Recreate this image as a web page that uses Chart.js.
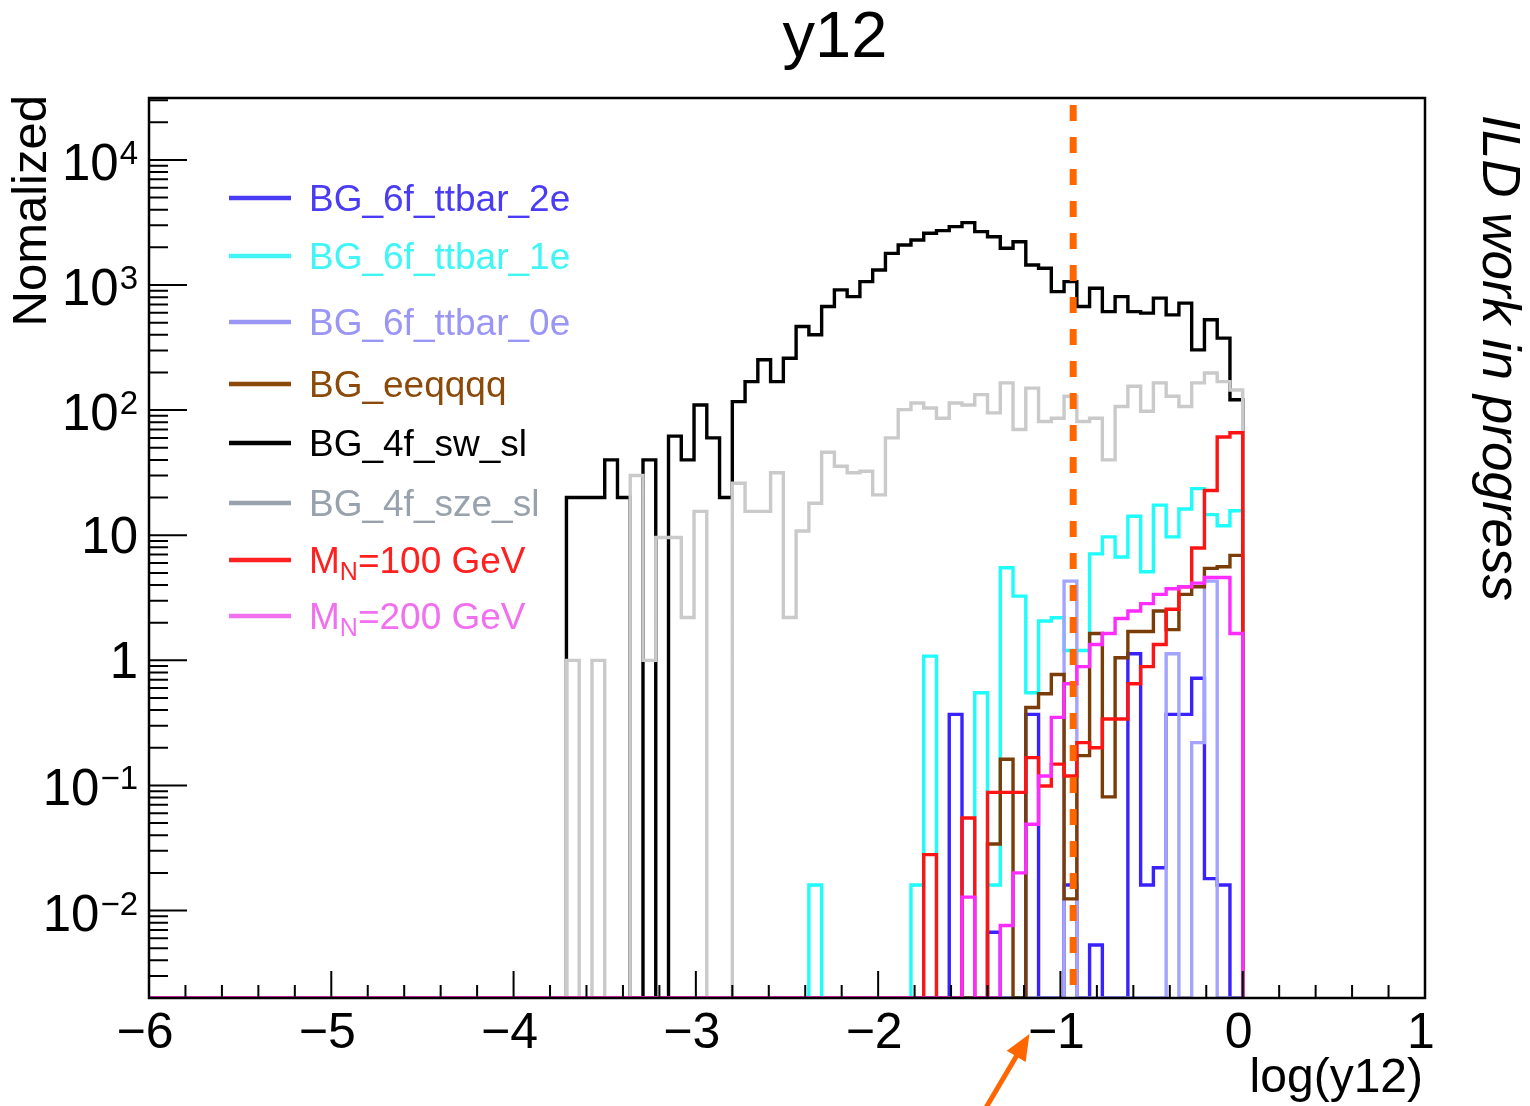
<!DOCTYPE html>
<html>
<head>
<meta charset="utf-8">
<title>y12</title>
<script src="https://cdn.jsdelivr.net/npm/chart.js@4.4.1/dist/chart.umd.min.js"></script>
<style>
  html, body { margin: 0; padding: 0; background: #fff; }
  #wrap { width: 1530px; height: 1106px; }
</style>
</head>
<body>
<div id="wrap"><canvas id="y12-chart" width="1530" height="1106"></canvas></div>
<script>
// Histograms have 100 bins of 0.07 over [-7, 0]; only bins from -3.71 up are filled.
const histLo = -7;
const histHi = 0;
const firstBin = -3.71;
const binWidth = 0.07;

// axis ranges
const xMin = -6, xMax = 1;
const yMin = 0.002, yMax = 31250;

// bin contents, one entry per bin starting at -3.71
const bg6fTtbar2e = [
  0, 0, 0, 0, 0, 0, 0, 0, 0, 0,
  0, 0, 0, 0, 0, 0, 0, 0, 0, 0,
  0, 0, 0, 0, 0, 0, 0, 0, 0, 0,
  0.37, 0, 0, 0.0067, 0, 0, 0.37, 0, 0, 0.016,
  0, 0.0053, 0, 0, 1.13, 0.016, 0.022, 0.37, 0.37, 0.72,
  0.018, 0.016, 0
];
const bg6fTtbar1e = [
  0, 0, 0, 0, 0, 0, 0, 0, 0, 0,
  0, 0, 0, 0, 0, 0, 0, 0, 0, 0.016,
  0, 0, 0, 0, 0, 0, 0, 0.016, 1.08, 0,
  0, 0, 0.55, 0.016, 5.5, 3.26, 0.55, 2.06, 2.19, 1.2,
  1.2, 7.1, 9.7, 6.7, 14.2, 5.1, 17.4, 9.7, 16.2, 23.6,
  14.6, 11.9, 15.7
];
const bg6fTtbar0e = [
  0, 0, 0, 0, 0, 0, 0, 0, 0, 0,
  0, 0, 0, 0, 0, 0, 0, 0, 0, 0,
  0, 0, 0, 0, 0, 0, 0, 0, 0, 0,
  0, 0, 0, 0, 0, 0, 0, 0, 0, 4.3,
  0, 0, 0, 0, 0, 0, 0, 1.13, 0, 0.22,
  4.3, 0, 0
];
const bgEeqqqq = [
  0, 0, 0, 0, 0, 0, 0, 0, 0, 0,
  0, 0, 0, 0, 0, 0, 0, 0, 0, 0,
  0, 0, 0, 0, 0, 0, 0, 0, 0, 0,
  0, 0, 0, 0.034, 0.162, 0, 0.42, 0.54, 0.77, 0.0124,
  0.173, 1.64, 0.081, 1.05, 1.7, 1.7, 2.48, 1.76, 3.37, 3.87,
  5.43, 5.6, 6.9
];
const bg4fSwSl = [
  20, 20, 20, 40, 20, 0, 40, 0, 62, 40,
  110, 60, 20, 117, 169, 253, 169, 260, 466, 400,
  673, 914, 808, 1065, 1320, 1790, 2090, 2290, 2590, 2720,
  2930, 3150, 2670, 2430, 1970, 2220, 1445, 1360, 885, 1065,
  673, 943, 613, 808, 613, 596, 785, 577, 716, 303,
  527, 376, 121
];
const bg4fSzeSl = [
  1, 0, 1, 0, 0, 30, 1, 9.6, 9.6, 2.2,
  15.5, 0, 0, 26, 15.5, 15.5, 31.6, 2.2, 10.8, 18,
  46, 35.6, 31.6, 32.5, 21, 60, 101, 114, 104, 86,
  114, 110, 133, 95, 165, 70, 150, 81, 86, 129,
  81, 86, 40, 107, 155, 98, 165, 129, 107, 165,
  198, 169, 145
];
const mN100 = [
  0, 0, 0, 0, 0, 0, 0, 0, 0, 0,
  0, 0, 0, 0, 0, 0, 0, 0, 0, 0,
  0, 0, 0, 0, 0, 0, 0, 0, 0.028, 0,
  0, 0.055, 0, 0.088, 0.088, 0.088, 0.167, 0.099, 0.148, 0.119,
  0.22, 0.2, 0.34, 0.34, 0.65, 0.89, 1.34, 2.56, 3.87, 7.9,
  22.8, 61, 66
];
const mN200 = [
  0, 0, 0, 0, 0, 0, 0, 0, 0, 0,
  0, 0, 0, 0, 0, 0, 0, 0, 0, 0,
  0, 0, 0, 0, 0, 0, 0, 0, 0, 0,
  0, 0.0128, 0, 0, 0.0076, 0.02, 0.049, 0.119, 0.35, 0.65,
  0.89, 1.34, 1.64, 2.16, 2.48, 2.84, 3.37, 3.73, 3.87, 4.14,
  4.59, 4.59, 1.64
];

// legend order == draw order (later ones on top)
const seriesLabels = ["BG_6f_ttbar_2e", "BG_6f_ttbar_1e", "BG_6f_ttbar_0e", "BG_eeqqqq",
                      "BG_4f_sw_sl", "BG_4f_sze_sl", "M{N}=100 GeV", "M{N}=200 GeV"];
const seriesValues = [bg6fTtbar2e, bg6fTtbar1e, bg6fTtbar0e, bgEeqqqq, bg4fSwSl, bg4fSzeSl, mN100, mN200];
const lineColors   = ["#3a22ff", "#1ffcfc", "#a4a4ff", "#7a3d08", "#000000", "#cacaca", "#ff1414", "#ff2cff"];
const legendColors = ["#4a3cf5", "#40f5f5", "#9a96f5", "#8b4a0a", "#000000", "#98a2ad", "#ff2020", "#f070f0"];

// axis ticks
const xTickValues = [-6, -5, -4, -3, -2, -1, 0, 1];
const xTickLabels = ["\u22126", "\u22125", "\u22124", "\u22123", "\u22122", "\u22121", "0", "1"];
const yTickValues = [0.01, 0.1, 1, 10, 100, 1000, 10000];
const yTickBase   = ["10", "10", "1", "10", "10", "10", "10"];
const yTickExp    = ["\u22122", "\u22121", "", "", "2", "3", "4"];

// selection cut and arrow
const cutValue = -0.93;
const arrowValue = -1.17;

const FONT = "'Liberation Sans', Arial, Helvetica, sans-serif";

function histPoints(values) {
  const pts = [{ x: histLo, y: yMin }];
  values.forEach((v, k) => pts.push({ x: firstBin + k * binWidth, y: v > 0 ? v : yMin }));
  pts.push({ x: histHi, y: yMin });
  return pts;
}

const datasets = seriesLabels.map((name, i) => ({
  label: name,
  data: histPoints(seriesValues[i]),
  borderColor: lineColors[i],
  borderWidth: 3.4,
  stepped: true,
  pointRadius: 0,
  fill: false,
  order: seriesLabels.length - i,
}));

function drawRich(ctx, label, x, y, size, color) {
  // "{X}" marks a subscript run
  const parts = label.split(/(\{[^}]*\})/).filter(p => p.length);
  ctx.fillStyle = color;
  ctx.textAlign = "left";
  let cx = x;
  parts.forEach(p => {
    if (p.startsWith("{")) {
      const s = p.slice(1, -1);
      ctx.font = `${Math.round(size * 0.68)}px ${FONT}`;
      ctx.fillText(s, cx, y + size * 0.2);
      cx += ctx.measureText(s).width;
    } else {
      ctx.font = `${size}px ${FONT}`;
      ctx.fillText(p, cx, y);
      cx += ctx.measureText(p).width;
    }
  });
}

const rootDecor = {
  id: "rootDecor",
  afterDatasetsDraw(chart) {
    const { ctx, chartArea: a, scales: { x: xs, y: ys } } = chart;
    ctx.save();

    // dashed cut line
    const cx = xs.getPixelForValue(cutValue);
    ctx.strokeStyle = "#ff6600";
    ctx.lineWidth = 7;
    ctx.setLineDash([16, 16]);
    ctx.lineDashOffset = 25;
    ctx.beginPath();
    ctx.moveTo(cx, a.top);
    ctx.lineTo(cx, a.bottom);
    ctx.stroke();
    ctx.setLineDash([]);

    // frame
    ctx.strokeStyle = "#000";
    ctx.lineWidth = 2.5;
    ctx.strokeRect(a.left, a.top, a.right - a.left, a.bottom - a.top);

    // x ticks (inward), major every 1, minor every 0.2
    ctx.lineWidth = 2;
    ctx.beginPath();
    for (let i = xMin * 5; i <= xMax * 5; i++) {
      const px = xs.getPixelForValue(i / 5);
      const len = i % 5 === 0 ? 27 : 13;
      ctx.moveTo(px, a.bottom);
      ctx.lineTo(px, a.bottom - len);
    }
    // y ticks, decades major, 2..9 minor
    for (let d = -3; d <= 4; d++) {
      for (let m = 1; m <= 9; m++) {
        const v = m * Math.pow(10, d);
        if (v < yMin || v > yMax) continue;
        const py = ys.getPixelForValue(v);
        const len = m === 1 ? 38 : 19;
        ctx.moveTo(a.left, py);
        ctx.lineTo(a.left + len, py);
      }
    }
    ctx.stroke();

    // tick labels
    ctx.fillStyle = "#000";
    ctx.textBaseline = "alphabetic";
    ctx.font = `50px ${FONT}`;
    ctx.textAlign = "center";
    xTickValues.forEach((v, i) => {
      ctx.fillText(xTickLabels[i], xs.getPixelForValue(v) - 4, 1048);
    });
    ctx.textAlign = "right";
    yTickValues.forEach((v, i) => {
      const py = ys.getPixelForValue(v);
      let right = 138;
      if (yTickExp[i]) {
        ctx.font = `33px ${FONT}`;
        ctx.fillText(yTickExp[i], right, py + 4);
        right -= ctx.measureText(yTickExp[i]).width + 1;
        ctx.font = `51px ${FONT}`;
        ctx.fillText(yTickBase[i], right, py + 20);
      } else {
        ctx.font = `51px ${FONT}`;
        ctx.fillText(yTickBase[i], right, py + 18);
      }
    });

    // title and axis titles
    ctx.textAlign = "center";
    ctx.font = `65px ${FONT}`;
    ctx.fillText("y12", 835, 57);

    ctx.textAlign = "right";
    ctx.font = `48px ${FONT}`;
    ctx.fillText("log(y12)", a.right - 2, 1092);

    ctx.save();
    ctx.translate(46, a.top - 3);
    ctx.rotate(-Math.PI / 2);
    ctx.textAlign = "right";
    ctx.font = `49px ${FONT}`;
    ctx.fillText("Nomalized", 0, 0);
    ctx.restore();

    ctx.save();
    ctx.translate(1483, 115);
    ctx.rotate(Math.PI / 2);
    ctx.textAlign = "left";
    ctx.font = `italic 53px ${FONT}`;
    ctx.fillText("ILD work in progress", 0, 0);
    ctx.restore();

    // legend
    const legendY = [198, 256, 322, 384, 443, 503, 560, 616];
    ctx.lineWidth = 4.5;
    seriesLabels.forEach((name, i) => {
      const y = legendY[i];
      ctx.strokeStyle = legendColors[i];
      ctx.beginPath();
      ctx.moveTo(229, y);
      ctx.lineTo(291, y);
      ctx.stroke();
      drawRich(ctx, name, 309, y + 13, 37, legendColors[i]);
    });

    // arrow pointing at the selection region
    const tx = xs.getPixelForValue(arrowValue), ty = 1034;
    const bx = tx - 46, by = 1112;
    const ang = Math.atan2(ty - by, tx - bx);
    ctx.strokeStyle = "#ff6600";
    ctx.fillStyle = "#ff6600";
    ctx.lineWidth = 5;
    ctx.beginPath();
    ctx.moveTo(bx, by);
    ctx.lineTo(tx - 20 * Math.cos(ang), ty - 20 * Math.sin(ang));
    ctx.stroke();
    ctx.beginPath();
    ctx.moveTo(tx, ty);
    ctx.lineTo(tx - 26 * Math.cos(ang) + 11 * Math.sin(ang), ty - 26 * Math.sin(ang) - 11 * Math.cos(ang));
    ctx.lineTo(tx - 26 * Math.cos(ang) - 11 * Math.sin(ang), ty - 26 * Math.sin(ang) + 11 * Math.cos(ang));
    ctx.closePath();
    ctx.fill();

    ctx.restore();
  },
};

new Chart(document.getElementById("y12-chart").getContext("2d"), {
  type: "line",
  data: { datasets },
  options: {
    responsive: false,
    animation: false,
    devicePixelRatio: 1,
    layout: { padding: { left: 149, right: 105, top: 98, bottom: 108 } },
    plugins: { legend: { display: false }, tooltip: { enabled: false }, title: { display: false } },
    elements: { line: { tension: 0, borderCapStyle: "butt", borderJoinStyle: "miter" } },
    scales: {
      x: { type: "linear", min: xMin, max: xMax, display: false },
      y: { type: "logarithmic", min: yMin, max: yMax, display: false },
    },
  },
  plugins: [rootDecor],
});
</script>
</body>
</html>
